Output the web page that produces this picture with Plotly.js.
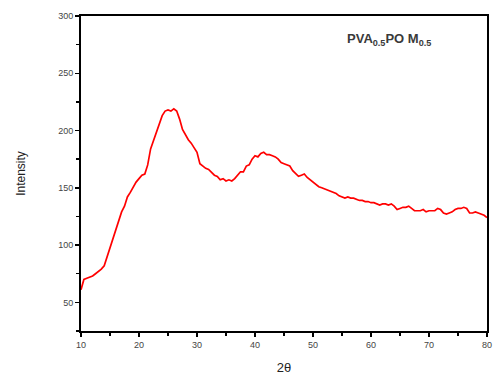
<!DOCTYPE html>
<html>
<head>
<meta charset="utf-8">
<script src="https://cdn.plot.ly/plotly-3.0.1.min.js"></script>
<style>html,body{margin:0;padding:0;background:#fff;}#chart{width:494px;height:376px;}</style>
</head>
<body>
<div id="chart"></div>
<script>
const twoTheta = [10.0,10.5,11.0,11.5,12.0,12.5,13.0,13.5,14.0,14.5,15.0,15.5,16.0,16.5,17.0,17.5,18.0,18.5,19.0,19.5,
20.0,20.5,21.0,21.5,22.0,22.5,23.0,23.5,24.0,24.5,25.0,25.5,26.0,26.5,27.0,27.5,28.0,28.5,29.0,29.5,
30.0,30.5,31.0,31.5,32.0,32.5,33.0,33.5,34.0,34.5,35.0,35.5,36.0,36.5,37.0,37.5,38.0,38.5,39.0,39.5,
40.0,40.5,41.0,41.5,42.0,42.5,43.0,43.5,44.0,44.5,45.0,45.5,46.0,46.5,47.0,47.5,48.0,48.5,49.0,49.5,
50.0,50.5,51.0,51.5,52.0,52.5,53.0,53.5,54.0,54.5,55.0,55.5,56.0,56.5,57.0,57.5,58.0,58.5,59.0,59.5,
60.0,60.5,61.0,61.5,62.0,62.5,63.0,63.5,64.0,64.5,65.0,65.5,66.0,66.5,67.0,67.5,68.0,68.5,69.0,69.5,
70.0,70.5,71.0,71.5,72.0,72.5,73.0,73.5,74.0,74.5,75.0,75.5,76.0,76.5,77.0,77.5,78.0,78.5,79.0,79.5,80.0];
const intensity = [61,70,71,72,73,75,77,79,82,90,98,106,114,121,129,134,142,146,151,155,
158,161,162,170,184,191,199,206,213,217,218,217,219,217,210,201,196,192,189,185,
181,171,169,167,166,163,161,160,157,158,156,157,156,158,161,164,164,169,170,175,
178,177,180,181,179,179,178,177,175,172,171,170,169,165,162,160,161,162,159,157,
155,153,151,150,149,148,147,146,145,143,142,141,142,141,141,140,139,139,138,138,
137,137,136,135,136,136,135,136,134,131,132,133,133,134,132,130,130,130,131,129,
130,130,130,132,131,128,127,128,129,131,132,132,133,132,128,128,129,128,127,126,124];
const xTitle = '2θ';
const yTitle = 'Intensity';
const label = '<b>PVA<sub>0.5</sub>PO M<sub>0.5</sub></b>';

const tickFont = {family: 'Liberation Sans, Arial, sans-serif', size: 9, color: '#444'};
Plotly.newPlot('chart', [{
  x: twoTheta, y: intensity, type: 'scatter', mode: 'lines',
  line: {color: '#ff0000', width: 1.7}, hoverinfo: 'none'
}], {
  width: 494, height: 376,
  margin: {l: 81, r: 7, t: 16, b: 45},
  paper_bgcolor: '#fff', plot_bgcolor: '#fff',
  showlegend: false,
  xaxis: {
    range: [10, 80], dtick: 10, tick0: 10, ticks: 'outside', ticklen: 4, tickwidth: 1.5, tickcolor: '#000',
    showline: true, linewidth: 2, linecolor: '#000', mirror: true, showgrid: false, zeroline: false,
    tickfont: tickFont,
    minor: {dtick: 5, ticks: 'outside', ticklen: 3, tickwidth: 1.5, tickcolor: '#000', showgrid: false},
    title: {text: xTitle, font: {family: 'Liberation Sans, Arial, sans-serif', size: 13, color: '#222'}, standoff: 14}
  },
  yaxis: {
    range: [25, 300], dtick: 50, tick0: 0, ticks: 'outside', ticklen: 4, tickwidth: 1.5, tickcolor: '#000',
    showline: true, linewidth: 2, linecolor: '#000', mirror: true, showgrid: false, zeroline: false,
    tickfont: tickFont,
    minor: {dtick: 25, ticks: 'outside', ticklen: 3, tickwidth: 1.5, tickcolor: '#000', showgrid: false},
    title: {text: yTitle, font: {family: 'Liberation Sans, Arial, sans-serif', size: 12, color: '#222'}, standoff: 30}
  },
  annotations: [{
    text: label, xref: 'paper', yref: 'paper', x: 0.868, y: 0.96, xanchor: 'right', yanchor: 'top',
    showarrow: false, font: {family: 'Liberation Sans, Arial, sans-serif', size: 13, color: '#3a3a3a'}
  }]
}, {staticPlot: true});
</script>
</body>
</html>
